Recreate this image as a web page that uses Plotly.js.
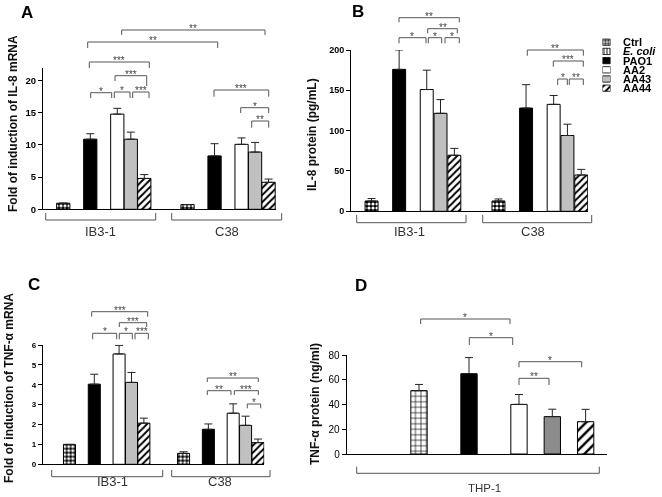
<!DOCTYPE html>
<html><head><meta charset="utf-8">
<script src="https://cdn.plot.ly/plotly-3.0.1.min.js"></script>
<style>html,body{margin:0;padding:0;background:#fff}#chart{width:662px;height:497px}
.main-svg{will-change:transform}</style>
</head><body><div id="chart"></div>
<script>
// ================= DATA =================
const categories = ['Ctrl', 'E. coli', 'PAO1', 'AA2', 'AA43', 'AA44'];
const cellLineCats = ['Ctrl', 'PAO1', 'AA2', 'AA43', 'AA44'];   // panels A-C
const groupLabels = ['IB3-1', 'C38'];
const thpCats = ['E. coli', 'PAO1', 'AA2', 'AA43', 'AA44'];     // panel D
const thpLabel = 'THP-1';

// Panel A : fold of induction of IL-8 mRNA
const il8mRNA_IB3 = [0.95, 10.9, 14.8, 10.9, 4.8];
const il8mRNA_IB3_err = [0, 0.85, 0.9, 1.1, 0.6];
const il8mRNA_C38 = [0.73, 8.3, 10.1, 8.9, 4.2];
const il8mRNA_C38_err = [0, 1.9, 1.0, 1.5, 0.5];

// Panel B : IL-8 protein (pg/mL)
const il8prot_IB3 = [12.8, 176, 151, 121.5, 69.5];
const il8prot_IB3_err = [3, 24, 24, 17, 8.5];
const il8prot_C38 = [12.8, 128, 132.6, 94, 45];
const il8prot_C38_err = [2.5, 29, 11, 14, 7];

// Panel C : fold of induction of TNF-alpha mRNA
const tnfmRNA_IB3 = [1.0, 4.03, 5.55, 4.12, 2.07];
const tnfmRNA_IB3_err = [0, 0.5, 0.43, 0.5, 0.25];
const tnfmRNA_C38 = [0.55, 1.76, 2.57, 1.96, 1.09];
const tnfmRNA_C38_err = [0.08, 0.27, 0.47, 0.46, 0.18];

// Panel D : TNF-alpha protein (ng/ml), THP-1
const tnfprot_THP = [51.2, 64.9, 40.1, 30.2, 26.1];
const tnfprot_THP_err = [5, 13, 8, 6, 10];

// tick labels
const ticksA = [0, 5, 10, 15, 20];
const ticksB = [0, 50, 100, 150, 200];
const ticksC = [0, 1, 2, 3, 4, 5, 6];
const ticksD = [0, 20, 40, 60, 80];

// category slot positions on the x axes
const groupSlots = [0, 2, 4, 5, 6];
const secondGroupOffset = 9.2;
const thpSlots = [3, 6, 9, 11, 13];

// ================= STYLE / LAYOUT =================
const W = 662, H = 497;
const FONT = 'Liberation Sans, Arial, Helvetica, sans-serif';
const px = v => v / W;
const py = v => 1 - v / H;
const dx = (a, b) => [px(a), px(b)];
const dy = (top, bottom) => [py(bottom), py(top)];

const catStyle = {
  'Ctrl':    {color: '#000', pattern: {shape: '.', bgcolor: '#000', fgcolor: '#fff', size: 4, solidity: 0.5}},
  'E. coli': {color: '#fff', pattern: {shape: '+', bgcolor: '#fff', fgcolor: '#000', size: 5.5, solidity: 0.22}},
  'PAO1':    {color: '#000'},
  'AA2':     {color: '#fff'},
  'AA43':    {color: '#c0c0c0'},
  'AA44':    {color: '#fff', pattern: {shape: '/', bgcolor: '#fff', fgcolor: '#000', size: 5, solidity: 0.4}}
};

const traces = [];
function addPanel(ax, ay, ib3, ib3e, c38, c38e, w) {
  cellLineCats.forEach((cat, i) => {
    const st = catStyle[cat];
    const marker = {color: st.color, line: {color: '#000', width: 1}};
    if (st.pattern) marker.pattern = st.pattern;
    traces.push({
      type: 'bar', xaxis: ax, yaxis: ay, name: cat, showlegend: false, hoverinfo: 'skip',
      x: [groupSlots[i], groupSlots[i] + secondGroupOffset],
      y: [ib3[i], c38[i]], width: w, marker: marker,
      error_y: {type: 'data', symmetric: false, array: [ib3e[i], c38e[i]], arrayminus: [0, 0],
                color: '#222', thickness: 1, width: 4}
    });
  });
}
addPanel('x', 'y', il8mRNA_IB3, il8mRNA_IB3_err, il8mRNA_C38, il8mRNA_C38_err, 0.98);
addPanel('x2', 'y2', il8prot_IB3, il8prot_IB3_err, il8prot_C38, il8prot_C38_err, 0.94);
addPanel('x3', 'y3', tnfmRNA_IB3, tnfmRNA_IB3_err, tnfmRNA_C38, tnfmRNA_C38_err, 0.97);

thpCats.forEach((cat, i) => {
  const st = catStyle[cat];
  const marker = {color: cat === 'AA43' ? '#8c8c8c' : st.color, line: {color: '#000', width: 1}};
  if (st.pattern) marker.pattern = Object.assign({}, st.pattern, cat === 'AA44' ? {size: 7, solidity: 0.35} : {});
  traces.push({
    type: 'bar', xaxis: 'x4', yaxis: 'y4', name: cat, showlegend: false, hoverinfo: 'skip',
    x: [thpSlots[i]], y: [tnfprot_THP[i]], width: 0.98, marker: marker,
    error_y: {type: 'data', symmetric: false, array: [tnfprot_THP_err[i]], arrayminus: [0],
              color: '#222', thickness: 1, width: 4}
  });
});

// legend swatches (small horizontal bars in their own mini axis)
categories.forEach((cat, i) => {
  const st = catStyle[cat];
  const marker = {color: st.color, line: {color: '#000', width: 0.8}};
  if (st.pattern) marker.pattern = cat === 'E. coli'
    ? {shape: '|', bgcolor: '#fff', fgcolor: '#000', size: 3, solidity: 0.3}
    : (cat === 'Ctrl' ? {shape: '.', bgcolor: '#000', fgcolor: '#fff', size: 3, solidity: 0.5} : st.pattern);
  traces.push({
    type: 'bar', orientation: 'h', xaxis: 'x5', yaxis: 'y5', showlegend: false, hoverinfo: 'skip',
    x: [1], y: [i], width: 0.68, marker: marker
  });
});

function yax(domain, range, tickvals, tickfont) {
  return {domain: domain, range: range, tickvals: tickvals, ticktext: tickvals.map(String),
    showline: true, linecolor: '#000', linewidth: 1, ticks: 'outside', ticklen: 4, tickcolor: '#000',
    tickwidth: 1, showgrid: false, zeroline: false, fixedrange: true, tickfont: tickfont};
}
function xax(domain, range, anchor) {
  return {domain: domain, range: range, anchor: anchor, showline: true, linecolor: '#000', linewidth: 1,
    ticks: '', showticklabels: false, showgrid: false, zeroline: false, fixedrange: true};
}
const boldTick = s => ({family: FONT, size: s, color: '#000', weight: 'bold'});

const legTop = 37.6, legStep = 9.2;
const layout = {
  width: W, height: H, margin: {l: 0, r: 0, t: 0, b: 0},
  paper_bgcolor: '#fff', plot_bgcolor: 'rgba(0,0,0,0)', showlegend: false,
  barmode: 'overlay', hovermode: false, font: {family: FONT, color: '#000'},
  xaxis:  xax(dx(43, 276),    [-1.5, 15.75], 'y'),
  yaxis:  yax(dy(67.8, 209.3), [0, 22], ticksA, boldTick(9.5)),
  xaxis2: xax(dx(351, 588),   [-1.49, 15.69], 'y2'),
  yaxis2: yax(dy(50, 211.3),  [0, 200], ticksB, boldTick(9)),
  xaxis3: xax(dx(42.7, 264.3), [-2.16, 15.71], 'y3'),
  yaxis3: yax(dy(344.6, 464.3), [0, 6.02], ticksC, boldTick(8)),
  xaxis4: xax(dx(346.7, 607.3), [-1.34, 14.3], 'y4'),
  yaxis4: yax(dy(355, 454),   [0, 80], ticksD, {family: 'Liberation Sans Narrow, Arial Narrow, ' + FONT, size: 10, color: '#000'}),
  xaxis5: {domain: dx(602.5, 610.5), range: [0, 1], anchor: 'y5', visible: false, fixedrange: true},
  yaxis5: {domain: dy(legTop, legTop + 6 * legStep), range: [5.5, -0.5], anchor: 'x5', visible: false, fixedrange: true},
  shapes: [], annotations: []
};
layout.yaxis.anchor = 'x'; layout.yaxis2.anchor = 'x2'; layout.yaxis3.anchor = 'x3'; layout.yaxis4.anchor = 'x4';

const shapes = layout.shapes, anns = layout.annotations;
function ann(x, y, text, font, extra) {
  anns.push(Object.assign({xref: 'paper', yref: 'paper', x: px(x), y: py(y), text: text, showarrow: false,
    xanchor: 'center', yanchor: 'middle', font: Object.assign({family: FONT, color: '#000'}, font)}, extra || {}));
}
function path(d) {
  shapes.push({type: 'path', xref: 'paper', yref: 'paper', path: d, line: {color: '#555', width: 1}});
}
// significance bracket: [x1, x2, yLine, yLeftEnd, yRightEnd, label]
function sig(b) {
  const [x1, x2, y, yl, yr, lab] = b;
  path(`M ${px(x1)},${py(yl)} L ${px(x1)},${py(y)} L ${px(x2)},${py(y)} L ${px(x2)},${py(yr)}`);
  ann((x1 + x2) / 2, y - 1.5, lab, {size: 10, color: '#444'});
}
// group bracket under the axis
function grp(x1, x2, yTop, yBot) {
  path(`M ${px(x1)},${py(yTop)} L ${px(x1)},${py(yBot)} L ${px(x2)},${py(yBot)} L ${px(x2)},${py(yTop)}`);
}

// Panel A annotations
[[121.7, 265, 30, 35, 35, '**'], [87.7, 217.7, 42, 48, 48, '**'], [89.3, 149.3, 62, 68, 68, '***'],
 [115, 146.7, 75.7, 81, 86, '***'], [90.7, 111.7, 92.7, 98, 98, '*'], [114.3, 130, 92, 98, 98, '*'],
 [132.7, 149, 92, 98, 98, '***'], [214, 268.7, 90, 96.7, 96.7, '***'], [240.7, 268.7, 107.7, 113, 113, '*'],
 [251.7, 268.7, 121, 127.7, 127.7, '**']].forEach(sig);
// Panel B
[[399, 459.3, 17.7, 22.3, 22.3, '**'], [427.7, 457.3, 28.7, 33.3, 33.3, '**'], [399, 426, 37.7, 43.3, 43.3, '*'],
 [428.3, 441.7, 37.7, 43.3, 43.3, '*'], [445, 459.3, 37.7, 43.3, 43.3, '*'], [527.3, 583.3, 50, 55.7, 55.7, '**'],
 [553.3, 583.3, 61, 66.7, 66.7, '***'], [557.7, 567.3, 79, 85, 85, '*'], [569.3, 583.3, 79, 85, 85, '**']].forEach(sig);
// Panel C
[[91.7, 147.7, 311.7, 316.7, 316.7, '***'], [119.3, 146.7, 322.7, 327, 327, '***'], [92.7, 116.7, 333.3, 339.3, 339.3, '*'],
 [119.3, 132.3, 333.3, 339.3, 339.3, '*'], [135, 148.3, 333.3, 339.3, 339.3, '***'], [207.3, 258.3, 378, 382, 382, '**'],
 [207.3, 231, 390.7, 395, 395, '**'], [234.3, 258.3, 390.7, 395, 395, '***'], [247.3, 260.7, 404, 408.3, 408.3, '*']].forEach(sig);
// Panel D
[[420.7, 510, 319, 324, 324, '*'], [469.3, 512.7, 337.7, 345, 345, '*'], [519, 581.7, 361.7, 367.3, 367.3, '*'],
 [519, 549, 378.3, 385, 385, '**']].forEach(sig);

// group brackets + labels
grp(45.7, 155.7, 213, 220); grp(171.7, 281.7, 213, 220);
grp(356.7, 466, 215, 222.7); grp(482.7, 591.7, 215, 222.7);
grp(51.7, 162.7, 470, 476.7); grp(171.7, 270, 470, 476.7);
grp(356.7, 599.3, 466.7, 473.3);
const glab = {size: 13, color: '#333'};
ann(100, 231, groupLabels[0], glab); ann(227, 231, groupLabels[1], glab);
ann(410, 231, groupLabels[0], glab); ann(533, 231, groupLabels[1], glab);
ann(112, 481, groupLabels[0], glab); ann(220, 481, groupLabels[1], glab);
ann(485, 488, thpLabel, {size: 11.5, color: '#333'});

// panel letters
const plet = {size: 17, weight: 'bold'};
ann(27.3, 12, 'A', plet); ann(357.5, 11, 'B', plet); ann(33.8, 284, 'C', plet); ann(360.5, 285.5, 'D', plet);

// y-axis titles
const ytf = {size: 12, weight: 'bold', color: '#111'};
ann(13, 124, 'Fold of induction of IL-8 mRNA', ytf, {textangle: -90});
ann(312, 135, 'IL-8 protein (pg/mL)', ytf, {textangle: -90});
ann(9, 388, 'Fold of induction of TNF-\u03b1 mRNA', ytf, {textangle: -90});
ann(315, 404, 'TNF-\u03b1 protein (ng/ml)', ytf, {textangle: -90});

// legend texts
categories.forEach((cat, i) => {
  ann(620.5, legTop + legStep * (i + 0.5), cat === 'E. coli' ? '<i>E. coli</i>' : cat,
      {size: 11, weight: 'bold'}, {xanchor: 'left'});
});

Plotly.newPlot('chart', traces, layout, {displayModeBar: false, staticPlot: true});
</script></body></html>
